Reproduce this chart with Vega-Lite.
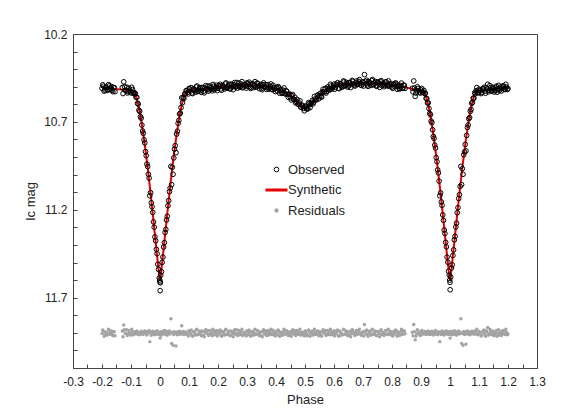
{
"$schema":"https://vega.github.io/schema/vega-lite/v6.json",
"width":464,"height":334,
"autosize":"none",
"padding":{"left":73,"top":34,"right":35,"bottom":46},
"background":"white",
"config":{"view":{"stroke":"#444","strokeWidth":1},"font":"Liberation Sans"},
"datasets":{
"syn":[{"p":-0.2,"m":10.505},{"p":-0.17,"m":10.51},{"p":-0.14,"m":10.515},{"p":-0.11,"m":10.52},{"p":-0.095,"m":10.524},{"p":-0.09,"m":10.527},{"p":-0.085,"m":10.545},{"p":-0.08,"m":10.57},{"p":-0.075,"m":10.603},{"p":-0.07,"m":10.642},{"p":-0.065,"m":10.688},{"p":-0.06,"m":10.742},{"p":-0.055,"m":10.8},{"p":-0.05,"m":10.862},{"p":-0.045,"m":10.928},{"p":-0.04,"m":10.997},{"p":-0.035,"m":11.07},{"p":-0.03,"m":11.146},{"p":-0.025,"m":11.224},{"p":-0.02,"m":11.303},{"p":-0.015,"m":11.383},{"p":-0.01,"m":11.462},{"p":-0.005,"m":11.54},{"p":0,"m":11.605},{"p":0.005,"m":11.54},{"p":0.01,"m":11.462},{"p":0.015,"m":11.383},{"p":0.02,"m":11.303},{"p":0.025,"m":11.224},{"p":0.03,"m":11.146},{"p":0.035,"m":11.07},{"p":0.04,"m":10.997},{"p":0.045,"m":10.928},{"p":0.05,"m":10.862},{"p":0.055,"m":10.8},{"p":0.06,"m":10.742},{"p":0.065,"m":10.688},{"p":0.07,"m":10.642},{"p":0.075,"m":10.603},{"p":0.08,"m":10.57},{"p":0.085,"m":10.545},{"p":0.09,"m":10.527},{"p":0.095,"m":10.524},{"p":0.11,"m":10.52},{"p":0.14,"m":10.515},{"p":0.17,"m":10.508},{"p":0.2,"m":10.503},{"p":0.25,"m":10.495},{"p":0.3,"m":10.49},{"p":0.35,"m":10.494},{"p":0.38,"m":10.504},{"p":0.4,"m":10.51},{"p":0.42,"m":10.522},{"p":0.44,"m":10.54},{"p":0.46,"m":10.566},{"p":0.48,"m":10.6},{"p":0.49,"m":10.616},{"p":0.5,"m":10.628},{"p":0.51,"m":10.616},{"p":0.52,"m":10.6},{"p":0.54,"m":10.564},{"p":0.56,"m":10.535},{"p":0.58,"m":10.512},{"p":0.6,"m":10.497},{"p":0.65,"m":10.484},{"p":0.7,"m":10.478},{"p":0.75,"m":10.481},{"p":0.8,"m":10.49},{"p":0.85,"m":10.505},{"p":0.88,"m":10.515},{"p":0.905,"m":10.524},{"p":0.91,"m":10.527},{"p":0.915,"m":10.545},{"p":0.92,"m":10.57},{"p":0.925,"m":10.603},{"p":0.93,"m":10.642},{"p":0.935,"m":10.688},{"p":0.94,"m":10.742},{"p":0.945,"m":10.8},{"p":0.95,"m":10.862},{"p":0.955,"m":10.928},{"p":0.96,"m":10.997},{"p":0.965,"m":11.07},{"p":0.97,"m":11.146},{"p":0.975,"m":11.224},{"p":0.98,"m":11.303},{"p":0.985,"m":11.383},{"p":0.99,"m":11.462},{"p":0.995,"m":11.54},{"p":1,"m":11.605},{"p":1.005,"m":11.54},{"p":1.01,"m":11.462},{"p":1.015,"m":11.383},{"p":1.02,"m":11.303},{"p":1.025,"m":11.224},{"p":1.03,"m":11.146},{"p":1.035,"m":11.07},{"p":1.04,"m":10.997},{"p":1.045,"m":10.928},{"p":1.05,"m":10.862},{"p":1.055,"m":10.8},{"p":1.06,"m":10.742},{"p":1.065,"m":10.688},{"p":1.07,"m":10.642},{"p":1.075,"m":10.603},{"p":1.08,"m":10.57},{"p":1.085,"m":10.545},{"p":1.09,"m":10.527},{"p":1.095,"m":10.524},{"p":1.11,"m":10.52},{"p":1.14,"m":10.515},{"p":1.17,"m":10.51},{"p":1.2,"m":10.505}],
"obs":[
{"p":-0.2,"o":10.509,"r":11.904},{"p":-0.195,"o":10.497,"r":11.891},{"p":-0.19,"o":10.519,"r":11.912},{"p":-0.185,"o":10.504,"r":11.897},{"p":-0.18,"o":10.515,"r":11.907},{"p":-0.175,"o":10.495,"r":11.886},{"p":-0.17,"o":10.511,"r":11.901},{"p":-0.165,"o":10.52,"r":11.91},{"p":-0.16,"o":10.505,"r":11.894},{"p":-0.155,"o":10.528,"r":11.916},
{"p":-0.13,"o":10.505,"r":11.889},{"p":-0.125,"o":10.472,"r":11.855},{"p":-0.12,"o":10.52,"r":11.902},{"p":-0.115,"o":10.502,"r":11.883},{"p":-0.11,"o":10.528,"r":11.908},{"p":-0.105,"o":10.52,"r":11.899},{"p":-0.1,"o":10.535,"r":11.913},{"p":-0.095,"o":10.516,"r":11.892},{"p":-0.09,"o":10.532,"r":11.905},
{"p":-0.0875,"o":10.541,"r":11.906},{"p":-0.085,"o":10.538,"r":11.893},{"p":-0.0825,"o":10.56,"r":11.903},{"p":-0.08,"o":10.56,"r":11.89},{"p":-0.0775,"o":10.594,"r":11.908},{"p":-0.075,"o":10.599,"r":11.896},{"p":-0.0725,"o":10.633,"r":11.911},{"p":-0.07,"o":10.64,"r":11.898},{"p":-0.0675,"o":10.67,"r":11.906},{"p":-0.065,"o":10.679,"r":11.891},{"p":-0.0625,"o":10.718,"r":11.904},{"p":-0.06,"o":10.752,"r":11.91},{"p":-0.0575,"o":10.765,"r":11.894},{"p":-0.055,"o":10.802,"r":11.902},{"p":-0.0525,"o":10.82,"r":11.889},{"p":-0.05,"o":10.869,"r":11.907},{"p":-0.0475,"o":10.892,"r":11.897},{"p":-0.045,"o":10.94,"r":11.912},{"p":-0.0425,"o":10.954,"r":11.892},{"p":-0.04,"o":10.998,"r":11.901},{"p":-0.0375,"o":11.02,"r":11.887},{"p":-0.035,"o":11.12,"r":11.95},{"p":-0.0325,"o":11.103,"r":11.895},{"p":-0.03,"o":11.16,"r":11.914},{"p":-0.0275,"o":11.183,"r":11.898},{"p":-0.025,"o":11.215,"r":11.891},{"p":-0.0225,"o":11.269,"r":11.906},{"p":-0.02,"o":11.299,"r":11.896},{"p":-0.0175,"o":11.354,"r":11.911},{"p":-0.015,"o":11.376,"r":11.893},{"p":-0.0125,"o":11.425,"r":11.903},{"p":-0.01,"o":11.45,"r":11.888},{"p":-0.0075,"o":11.51,"r":11.908},{"p":-0.005,"o":11.539,"r":11.899},{"p":-0.0025,"o":11.588,"r":11.91},{"p":-0.001,"o":11.6,"r":11.908},{"p":0,"o":11.61,"r":11.905},{"p":0.0005,"o":11.66,"r":11.93},{"p":0.001,"o":11.615,"r":11.912},
{"p":0.0025,"o":11.572,"r":11.894},{"p":0.005,"o":11.552,"r":11.912},{"p":0.0075,"o":11.499,"r":11.897},{"p":0.01,"o":11.469,"r":11.907},{"p":0.0125,"o":11.412,"r":11.89},{"p":0.015,"o":11.387,"r":11.904},{"p":0.0175,"o":11.329,"r":11.886},{"p":0.02,"o":11.312,"r":11.909},{"p":0.0225,"o":11.258,"r":11.895},{"p":0.025,"o":11.237,"r":11.913},{"p":0.0275,"o":11.177,"r":11.892},{"p":0.03,"o":11.148,"r":11.902},{"p":0.0325,"o":11.097,"r":11.889},{"p":0.035,"o":11.076,"r":11.906},{"p":0.0375,"o":10.953,"r":11.82},{"p":0.04,"o":11.057,"r":11.96},{"p":0.0425,"o":10.958,"r":11.896},{"p":0.045,"o":10.998,"r":11.97},{"p":0.0475,"o":10.905,"r":11.91},{"p":0.05,"o":10.855,"r":11.893},{"p":0.0525,"o":10.835,"r":11.904},{"p":0.055,"o":10.875,"r":11.975},{"p":0.0575,"o":10.769,"r":11.898},{"p":0.06,"o":10.753,"r":11.911},{"p":0.0625,"o":10.708,"r":11.894},{"p":0.065,"o":10.691,"r":11.903},{"p":0.0675,"o":10.655,"r":11.891},{"p":0.07,"o":10.65,"r":11.908},{"p":0.0725,"o":10.619,"r":11.897},{"p":0.075,"o":10.563,"r":11.86},{"p":0.0775,"o":10.591,"r":11.905},{"p":0.08,"o":10.562,"r":11.892},{"p":0.0825,"o":10.567,"r":11.91},{"p":0.085,"o":10.541,"r":11.896},{"p":0.0875,"o":10.541,"r":11.906},
{"p":0.09,"o":10.522,"r":11.895},{"p":0.095,"o":10.533,"r":11.909},{"p":0.1,"o":10.51,"r":11.888},{"p":0.105,"o":10.525,"r":11.904},{"p":0.11,"o":10.535,"r":11.915},{"p":0.115,"o":10.512,"r":11.893},{"p":0.12,"o":10.52,"r":11.902},{"p":0.125,"o":10.501,"r":11.884},{"p":0.13,"o":10.527,"r":11.911},{"p":0.135,"o":10.512,"r":11.897},{"p":0.14,"o":10.522,"r":11.907},{"p":0.145,"o":10.504,"r":11.89},{"p":0.15,"o":10.526,"r":11.913},{"p":0.155,"o":10.507,"r":11.895},{"p":0.16,"o":10.512,"r":11.901},{"p":0.165,"o":10.496,"r":11.886},{"p":0.17,"o":10.518,"r":11.909},{"p":0.175,"o":10.506,"r":11.898},{"p":0.18,"o":10.523,"r":11.916},{"p":0.185,"o":10.497,"r":11.891},{"p":0.19,"o":10.509,"r":11.904},{"p":0.195,"o":10.491,"r":11.887},{"p":0.2,"o":10.509,"r":11.906},{"p":0.205,"o":10.498,"r":11.896},{"p":0.21,"o":10.513,"r":11.912},{"p":0.215,"o":10.493,"r":11.892},{"p":0.22,"o":10.503,"r":11.903},{"p":0.225,"o":10.484,"r":11.885},{"p":0.23,"o":10.508,"r":11.91},{"p":0.235,"o":10.496,"r":11.899},{"p":0.24,"o":10.511,"r":11.914},{"p":0.245,"o":10.485,"r":11.889},{"p":0.25,"o":10.5,"r":11.905},{"p":0.255,"o":10.489,"r":11.894},{"p":0.26,"o":10.502,"r":11.908},{"p":0.265,"o":10.476,"r":11.883},{"p":0.27,"o":10.495,"r":11.902},{"p":0.275,"o":10.503,"r":11.911},{"p":0.28,"o":10.485,"r":11.893},{"p":0.285,"o":10.506,"r":11.915},{"p":0.29,"o":10.488,"r":11.897},{"p":0.295,"o":10.496,"r":11.906},{"p":0.3,"o":10.478,"r":11.888},{"p":0.305,"o":10.499,"r":11.909},{"p":0.31,"o":10.486,"r":11.895},{"p":0.315,"o":10.504,"r":11.913},{"p":0.32,"o":10.483,"r":11.891},{"p":0.325,"o":10.493,"r":11.901},{"p":0.33,"o":10.502,"r":11.91},{"p":0.335,"o":10.479,"r":11.886},{"p":0.34,"o":10.497,"r":11.904},{"p":0.345,"o":10.492,"r":11.898},{"p":0.35,"o":10.51,"r":11.916},{"p":0.355,"o":10.488,"r":11.892},{"p":0.36,"o":10.504,"r":11.907},{"p":0.365,"o":10.488,"r":11.889},{"p":0.37,"o":10.503,"r":11.903},{"p":0.375,"o":10.514,"r":11.912},{"p":0.38,"o":10.498,"r":11.894},{"p":0.385,"o":10.513,"r":11.908},{"p":0.39,"o":10.492,"r":11.885},{"p":0.395,"o":10.513,"r":11.905},{"p":0.4,"o":10.507,"r":11.897},{"p":0.405,"o":10.524,"r":11.911},{"p":0.41,"o":10.507,"r":11.891},{"p":0.415,"o":10.521,"r":11.902},{"p":0.42,"o":10.536,"r":11.914},{"p":0.425,"o":10.52,"r":11.894},{"p":0.43,"o":10.538,"r":11.907},{"p":0.435,"o":10.523,"r":11.888},{"p":0.44,"o":10.544,"r":11.904},{"p":0.445,"o":10.544,"r":11.898},{"p":0.45,"o":10.562,"r":11.91},{"p":0.455,"o":10.551,"r":11.892},{"p":0.46,"o":10.571,"r":11.906},{"p":0.465,"o":10.56,"r":11.887},{"p":0.47,"o":10.584,"r":11.903},{"p":0.475,"o":10.598,"r":11.909},{"p":0.48,"o":10.592,"r":11.895},{"p":0.485,"o":10.615,"r":11.912},{"p":0.49,"o":10.605,"r":11.896},{"p":0.495,"o":10.623,"r":11.907},{"p":0.5,"o":10.612,"r":11.89},{"p":0.505,"o":10.621,"r":11.905},{"p":0.51,"o":10.622,"r":11.913},{"p":0.515,"o":10.596,"r":11.893},{"p":0.52,"o":10.599,"r":11.902},{"p":0.525,"o":10.578,"r":11.889},{"p":0.53,"o":10.588,"r":11.908},{"p":0.535,"o":10.569,"r":11.897},{"p":0.54,"o":10.573,"r":11.91},{"p":0.545,"o":10.547,"r":11.891},{"p":0.55,"o":10.553,"r":11.904},{"p":0.555,"o":10.556,"r":11.914},{"p":0.56,"o":10.529,"r":11.894},{"p":0.565,"o":10.53,"r":11.901},{"p":0.57,"o":10.51,"r":11.886},{"p":0.575,"o":10.527,"r":11.909},{"p":0.58,"o":10.51,"r":11.898},{"p":0.585,"o":10.519,"r":11.911},{"p":0.59,"o":10.496,"r":11.892},{"p":0.595,"o":10.506,"r":11.905},{"p":0.6,"o":10.485,"r":11.888},{"p":0.605,"o":10.503,"r":11.907},{"p":0.61,"o":10.49,"r":11.896},{"p":0.615,"o":10.508,"r":11.915},{"p":0.62,"o":10.482,"r":11.89},{"p":0.625,"o":10.494,"r":11.903},{"p":0.63,"o":10.498,"r":11.909},{"p":0.635,"o":10.472,"r":11.884},{"p":0.64,"o":10.493,"r":11.906},{"p":0.645,"o":10.484,"r":11.899},{"p":0.65,"o":10.496,"r":11.912},{"p":0.655,"o":10.476,"r":11.893},{"p":0.66,"o":10.487,"r":11.904},{"p":0.665,"o":10.469,"r":11.887},{"p":0.67,"o":10.491,"r":11.91},{"p":0.675,"o":10.478,"r":11.897},{"p":0.68,"o":10.488,"r":11.908},{"p":0.685,"o":10.469,"r":11.889},{"p":0.69,"o":10.481,"r":11.902},{"p":0.695,"o":10.493,"r":11.914},{"p":0.7,"o":10.472,"r":11.894},{"p":0.705,"o":10.431,"r":11.853},{"p":0.71,"o":10.484,"r":11.905},{"p":0.715,"o":10.49,"r":11.911},{"p":0.72,"o":10.47,"r":11.891},{"p":0.725,"o":10.483,"r":11.903},{"p":0.73,"o":10.465,"r":11.885},{"p":0.735,"o":10.488,"r":11.908},{"p":0.74,"o":10.479,"r":11.898},{"p":0.745,"o":10.494,"r":11.913},{"p":0.75,"o":10.474,"r":11.893},{"p":0.755,"o":10.486,"r":11.904},{"p":0.76,"o":10.471,"r":11.888},{"p":0.765,"o":10.494,"r":11.91},{"p":0.77,"o":10.481,"r":11.896},{"p":0.775,"o":10.492,"r":11.906},{"p":0.78,"o":10.472,"r":11.886},{"p":0.785,"o":10.496,"r":11.909},{"p":0.79,"o":10.489,"r":11.901},{"p":0.795,"o":10.481,"r":11.892},{"p":0.8,"o":10.502,"r":11.912},{"p":0.805,"o":10.487,"r":11.895},{"p":0.81,"o":10.5,"r":11.907},{"p":0.815,"o":10.485,"r":11.89},{"p":0.82,"o":10.499,"r":11.903},{"p":0.825,"o":10.512,"r":11.914},{"p":0.83,"o":10.493,"r":11.894},{"p":0.835,"o":10.509,"r":11.908},{"p":0.84,"o":10.491,"r":11.889},{"p":0.845,"o":10.509,"r":11.905},
{"p":0.87,"o":10.509,"r":11.897},{"p":0.875,"o":10.467,"r":11.853},{"p":0.88,"o":10.555,"r":11.94},{"p":0.885,"o":10.523,"r":11.906},{"p":0.89,"o":10.51,"r":11.891},{"p":0.895,"o":10.531,"r":11.911},{"p":0.9,"o":10.518,"r":11.896},{"p":0.905,"o":10.531,"r":11.907},{"p":0.91,"o":10.521,"r":11.894},
{"p":0.9125,"o":10.539,"r":11.904},{"p":0.915,"o":10.537,"r":11.892},{"p":0.9175,"o":10.566,"r":11.909},{"p":0.92,"o":10.567,"r":11.897},{"p":0.9225,"o":10.592,"r":11.906},{"p":0.925,"o":10.592,"r":11.889},{"p":0.9275,"o":10.624,"r":11.902},{"p":0.93,"o":10.652,"r":11.91},{"p":0.9325,"o":10.659,"r":11.895},{"p":0.935,"o":10.695,"r":11.907},{"p":0.9375,"o":10.705,"r":11.891},{"p":0.94,"o":10.745,"r":11.903},{"p":0.9425,"o":10.783,"r":11.912},{"p":0.945,"o":10.794,"r":11.894},{"p":0.9475,"o":10.832,"r":11.901},{"p":0.95,"o":10.849,"r":11.887},{"p":0.9525,"o":10.903,"r":11.908},{"p":0.955,"o":10.926,"r":11.898},{"p":0.9575,"o":10.973,"r":11.911},{"p":0.96,"o":10.99,"r":11.893},{"p":0.9625,"o":11.037,"r":11.904},{"p":0.965,"o":11.12,"r":11.95},{"p":0.9675,"o":11.104,"r":11.896},{"p":0.97,"o":11.155,"r":11.909},{"p":0.9725,"o":11.175,"r":11.89},{"p":0.975,"o":11.229,"r":11.905},{"p":0.9775,"o":11.26,"r":11.897},{"p":0.98,"o":11.315,"r":11.912},{"p":0.9825,"o":11.335,"r":11.892},{"p":0.985,"o":11.385,"r":11.902},{"p":0.9875,"o":11.411,"r":11.889},{"p":0.99,"o":11.469,"r":11.907},{"p":0.9925,"o":11.498,"r":11.896},{"p":0.995,"o":11.55,"r":11.91},{"p":0.9975,"o":11.572,"r":11.894},{"p":0.999,"o":11.6,"r":11.906},{"p":1,"o":11.613,"r":11.908},{"p":1.0005,"o":11.655,"r":11.93},
{"p":1.0025,"o":11.582,"r":11.904},{"p":1.005,"o":11.531,"r":11.891},{"p":1.0075,"o":11.513,"r":11.911},{"p":1.01,"o":11.46,"r":11.898},{"p":1.0125,"o":11.428,"r":11.906},{"p":1.015,"o":11.371,"r":11.888},{"p":1.0175,"o":11.351,"r":11.908},{"p":1.02,"o":11.298,"r":11.895},{"p":1.0225,"o":11.276,"r":11.913},{"p":1.025,"o":11.217,"r":11.893},{"p":1.0275,"o":11.188,"r":11.903},{"p":1.03,"o":11.136,"r":11.89},{"p":1.0325,"o":11.114,"r":11.906},{"p":1.035,"o":11.067,"r":11.897},{"p":1.0375,"o":10.953,"r":11.82},{"p":1.04,"o":11.057,"r":11.96},{"p":1.0425,"o":10.966,"r":11.904},{"p":1.045,"o":10.998,"r":11.97},{"p":1.0475,"o":10.887,"r":11.892},{"p":1.05,"o":10.871,"r":11.909},{"p":1.0525,"o":10.828,"r":11.897},{"p":1.055,"o":10.865,"r":11.965},{"p":1.0575,"o":10.777,"r":11.906},{"p":1.06,"o":10.732,"r":11.89},{"p":1.0625,"o":10.718,"r":11.904},{"p":1.065,"o":10.682,"r":11.894},{"p":1.0675,"o":10.675,"r":11.911},{"p":1.07,"o":10.64,"r":11.898},{"p":1.0725,"o":10.629,"r":11.907},{"p":1.075,"o":10.594,"r":11.891},{"p":1.0775,"o":10.589,"r":11.903},{"p":1.08,"o":10.565,"r":11.895},{"p":1.0825,"o":10.565,"r":11.908},{"p":1.085,"o":10.534,"r":11.889},{"p":1.0875,"o":10.54,"r":11.905},
{"p":1.09,"o":10.523,"r":11.896},{"p":1.095,"o":10.534,"r":11.91},{"p":1.1,"o":10.514,"r":11.892},{"p":1.105,"o":10.524,"r":11.903},{"p":1.11,"o":10.533,"r":11.913},{"p":1.115,"o":10.513,"r":11.894},{"p":1.12,"o":10.525,"r":11.907},{"p":1.125,"o":10.505,"r":11.888},{"p":1.13,"o":10.486,"r":11.87},{"p":1.135,"o":10.52,"r":11.905},{"p":1.14,"o":10.506,"r":11.891},{"p":1.145,"o":10.525,"r":11.911},{"p":1.15,"o":10.511,"r":11.898},{"p":1.155,"o":10.52,"r":11.908},{"p":1.16,"o":10.497,"r":11.886},{"p":1.165,"o":10.514,"r":11.904},{"p":1.17,"o":10.522,"r":11.912},{"p":1.175,"o":10.502,"r":11.893},{"p":1.18,"o":10.51,"r":11.902},{"p":1.185,"o":10.497,"r":11.89},{"p":1.19,"o":10.516,"r":11.909},{"p":1.195,"o":10.502,"r":11.896},{"p":1.2,"o":10.511,"r":11.906},
{"p":-0.1975,"o":10.489,"r":11.884},{"p":-0.1925,"o":10.525,"r":11.919},{"p":-0.1875,"o":10.503,"r":11.896},{"p":-0.1825,"o":10.521,"r":11.913},{"p":-0.1775,"o":10.488,"r":11.879},{"p":-0.1725,"o":10.517,"r":11.908},{"p":-0.1675,"o":10.499,"r":11.889},{"p":-0.1625,"o":10.528,"r":11.917},{"p":-0.1575,"o":10.505,"r":11.893},{"p":-0.1275,"o":10.539,"r":11.922},{"p":-0.1225,"o":10.5,"r":11.882},{"p":-0.1175,"o":10.522,"r":11.903},{"p":-0.1125,"o":10.535,"r":11.915},{"p":-0.1075,"o":10.508,"r":11.887},{"p":-0.1025,"o":10.528,"r":11.906},{"p":-0.0975,"o":10.503,"r":11.88},{"p":-0.0925,"o":10.537,"r":11.911},
{"p":0.0925,"o":10.523,"r":11.898},{"p":0.0975,"o":10.541,"r":11.918},{"p":0.1025,"o":10.513,"r":11.891},{"p":0.1075,"o":10.505,"r":11.884},{"p":0.1125,"o":10.539,"r":11.919},{"p":0.1175,"o":10.515,"r":11.896},{"p":0.1225,"o":10.531,"r":11.913},{"p":0.1275,"o":10.496,"r":11.879},{"p":0.1325,"o":10.524,"r":11.908},{"p":0.1375,"o":10.504,"r":11.889},{"p":0.1425,"o":10.532,"r":11.917},{"p":0.1475,"o":10.507,"r":11.893},{"p":0.1525,"o":10.535,"r":11.922},{"p":0.1575,"o":10.494,"r":11.882},{"p":0.1625,"o":10.514,"r":11.903},{"p":0.1675,"o":10.525,"r":11.915},{"p":0.1725,"o":10.496,"r":11.887},{"p":0.1775,"o":10.514,"r":11.906},{"p":0.1825,"o":10.487,"r":11.88},{"p":0.1875,"o":10.517,"r":11.911},{"p":0.1925,"o":10.503,"r":11.898},{"p":0.1975,"o":10.522,"r":11.918},{"p":0.2025,"o":10.494,"r":11.891},{"p":0.2075,"o":10.486,"r":11.884},{"p":0.2125,"o":10.52,"r":11.919},{"p":0.2175,"o":10.496,"r":11.896},{"p":0.2225,"o":10.513,"r":11.913},{"p":0.2275,"o":10.478,"r":11.879},{"p":0.2325,"o":10.506,"r":11.908},{"p":0.2375,"o":10.486,"r":11.889},{"p":0.2425,"o":10.513,"r":11.917},{"p":0.2475,"o":10.489,"r":11.893},{"p":0.2525,"o":10.517,"r":11.922},{"p":0.2575,"o":10.476,"r":11.882},{"p":0.2625,"o":10.497,"r":11.903},{"p":0.2675,"o":10.508,"r":11.915},{"p":0.2725,"o":10.479,"r":11.887},{"p":0.2775,"o":10.498,"r":11.906},{"p":0.2825,"o":10.471,"r":11.88},{"p":0.2875,"o":10.502,"r":11.911},{"p":0.2925,"o":10.488,"r":11.898},{"p":0.2975,"o":10.508,"r":11.918},{"p":0.3025,"o":10.481,"r":11.891},{"p":0.3075,"o":10.474,"r":11.884},{"p":0.3125,"o":10.51,"r":11.919},{"p":0.3175,"o":10.487,"r":11.896},{"p":0.3225,"o":10.505,"r":11.913},{"p":0.3275,"o":10.471,"r":11.879},{"p":0.3325,"o":10.501,"r":11.908},{"p":0.3375,"o":10.482,"r":11.889},{"p":0.3425,"o":10.511,"r":11.917},{"p":0.3475,"o":10.487,"r":11.893},{"p":0.3525,"o":10.517,"r":11.922},{"p":0.3575,"o":10.478,"r":11.882},{"p":0.3625,"o":10.501,"r":11.903},{"p":0.3675,"o":10.515,"r":11.915},{"p":0.3725,"o":10.488,"r":11.887},{"p":0.3775,"o":10.509,"r":11.906},{"p":0.3825,"o":10.484,"r":11.88},{"p":0.3875,"o":10.517,"r":11.911},{"p":0.3925,"o":10.505,"r":11.898},{"p":0.3975,"o":10.527,"r":11.918},{"p":0.4025,"o":10.503,"r":11.891},{"p":0.4075,"o":10.499,"r":11.884},{"p":0.4125,"o":10.537,"r":11.919},{"p":0.4175,"o":10.517,"r":11.896},{"p":0.4225,"o":10.537,"r":11.913},{"p":0.4275,"o":10.507,"r":11.879},{"p":0.4325,"o":10.541,"r":11.908},{"p":0.4375,"o":10.527,"r":11.889},{"p":0.4425,"o":10.56,"r":11.917},{"p":0.4475,"o":10.542,"r":11.893},{"p":0.4525,"o":10.575,"r":11.92},{"p":0.4575,"o":10.544,"r":11.882},{"p":0.4625,"o":10.572,"r":11.903},{"p":0.4675,"o":10.592,"r":11.915},{"p":0.4725,"o":10.572,"r":11.887},{"p":0.4775,"o":10.599,"r":11.906},{"p":0.4825,"o":10.58,"r":11.88},{"p":0.4875,"o":10.617,"r":11.911},{"p":0.4925,"o":10.61,"r":11.898},{"p":0.4975,"o":10.637,"r":11.918},{"p":0.5025,"o":10.61,"r":11.891},{"p":0.5075,"o":10.628,"r":11.916},{"p":0.5125,"o":10.59,"r":11.884},{"p":0.5175,"o":10.619,"r":11.919},{"p":0.5225,"o":10.589,"r":11.896},{"p":0.5275,"o":10.598,"r":11.913},{"p":0.5325,"o":10.555,"r":11.879},{"p":0.5375,"o":10.575,"r":11.908},{"p":0.5425,"o":10.549,"r":11.889},{"p":0.5475,"o":10.569,"r":11.917},{"p":0.5525,"o":10.538,"r":11.893},{"p":0.5575,"o":10.559,"r":11.92},{"p":0.5625,"o":10.514,"r":11.882},{"p":0.5675,"o":10.529,"r":11.903},{"p":0.5725,"o":10.536,"r":11.915},{"p":0.5775,"o":10.502,"r":11.887},{"p":0.5825,"o":10.516,"r":11.906},{"p":0.5875,"o":10.486,"r":11.88},{"p":0.5925,"o":10.513,"r":11.911},{"p":0.5975,"o":10.497,"r":11.898},{"p":0.6025,"o":10.514,"r":11.918},{"p":0.6075,"o":10.486,"r":11.891},{"p":0.6125,"o":10.477,"r":11.884},{"p":0.6175,"o":10.511,"r":11.919},{"p":0.6225,"o":10.487,"r":11.896},{"p":0.6275,"o":10.503,"r":11.913},{"p":0.6325,"o":10.467,"r":11.879},{"p":0.6375,"o":10.495,"r":11.908},{"p":0.6425,"o":10.475,"r":11.889},{"p":0.6475,"o":10.502,"r":11.917},{"p":0.6525,"o":10.477,"r":11.893},{"p":0.6575,"o":10.505,"r":11.922},{"p":0.6625,"o":10.464,"r":11.882},{"p":0.6675,"o":10.484,"r":11.903},{"p":0.6725,"o":10.496,"r":11.915},{"p":0.6775,"o":10.467,"r":11.887},{"p":0.6825,"o":10.486,"r":11.906},{"p":0.6875,"o":10.459,"r":11.88},{"p":0.6925,"o":10.49,"r":11.911},{"p":0.6975,"o":10.476,"r":11.898},{"p":0.7025,"o":10.496,"r":11.918},{"p":0.7075,"o":10.469,"r":11.891},{"p":0.7125,"o":10.463,"r":11.884},{"p":0.7175,"o":10.498,"r":11.919},{"p":0.7225,"o":10.475,"r":11.896},{"p":0.7275,"o":10.493,"r":11.913},{"p":0.7325,"o":10.459,"r":11.879},{"p":0.7375,"o":10.488,"r":11.908},{"p":0.7425,"o":10.47,"r":11.889},{"p":0.7475,"o":10.498,"r":11.917},{"p":0.7525,"o":10.474,"r":11.893},{"p":0.7575,"o":10.504,"r":11.922},{"p":0.7625,"o":10.465,"r":11.882},{"p":0.7675,"o":10.487,"r":11.903},{"p":0.7725,"o":10.5,"r":11.915},{"p":0.7775,"o":10.473,"r":11.887},{"p":0.7825,"o":10.492,"r":11.906},{"p":0.7875,"o":10.467,"r":11.88},{"p":0.7925,"o":10.499,"r":11.911},{"p":0.7975,"o":10.487,"r":11.898},{"p":0.8025,"o":10.509,"r":11.918},{"p":0.8075,"o":10.483,"r":11.891},{"p":0.8125,"o":10.478,"r":11.884},{"p":0.8175,"o":10.514,"r":11.919},{"p":0.8225,"o":10.493,"r":11.896},{"p":0.8275,"o":10.511,"r":11.913},{"p":0.8325,"o":10.479,"r":11.879},{"p":0.8375,"o":10.509,"r":11.908},{"p":0.8425,"o":10.492,"r":11.889},{"p":0.8725,"o":10.53,"r":11.917},{"p":0.8775,"o":10.507,"r":11.893},{"p":0.8825,"o":10.536,"r":11.92},{"p":0.8875,"o":10.5,"r":11.882},{"p":0.8925,"o":10.522,"r":11.903},{"p":0.8975,"o":10.536,"r":11.915},{"p":0.9025,"o":10.51,"r":11.887},{"p":0.9075,"o":10.531,"r":11.906},
{"p":1.0925,"o":10.505,"r":11.88},{"p":1.0975,"o":10.534,"r":11.911},{"p":1.1025,"o":10.52,"r":11.898},{"p":1.1075,"o":10.539,"r":11.918},{"p":1.1125,"o":10.511,"r":11.891},{"p":1.1175,"o":10.503,"r":11.884},{"p":1.1225,"o":10.537,"r":11.919},{"p":1.1275,"o":10.513,"r":11.896},{"p":1.1325,"o":10.529,"r":11.913},{"p":1.1375,"o":10.494,"r":11.879},{"p":1.1425,"o":10.523,"r":11.908},{"p":1.1475,"o":10.503,"r":11.889},{"p":1.1525,"o":10.53,"r":11.917},{"p":1.1575,"o":10.505,"r":11.893},{"p":1.1625,"o":10.531,"r":11.92},{"p":1.1675,"o":10.492,"r":11.882},{"p":1.1725,"o":10.512,"r":11.903},{"p":1.1775,"o":10.524,"r":11.915},{"p":1.1825,"o":10.495,"r":11.887},{"p":1.1875,"o":10.513,"r":11.906},{"p":1.1925,"o":10.486,"r":11.88},{"p":1.1975,"o":10.516,"r":11.911}
]},
"encoding":{
"x":{"field":"p","type":"quantitative","title":"Phase",
"scale":{"domain":[-0.3,1.3],"nice":false,"zero":false},
"axis":{"values":[-0.3,-0.25,-0.2,-0.15,-0.1,-0.05,0,0.05,0.1,0.15,0.2,0.25,0.3,0.35,0.4,0.45,0.5,0.55,0.6,0.65,0.7,0.75,0.8,0.85,0.9,0.95,1,1.05,1.1,1.15,1.2,1.25,1.3],
"labelExpr":"abs(round(datum.value*20)) % 2 === 0 ? toString(round(datum.value*10)/10) : ''",
"grid":false,"tickSize":-4,"tickColor":"#444","domainColor":"#444","labelPadding":12,"labelFlush":false,"labelOverlap":false,"labelBound":false,
"labelFont":"Liberation Sans","labelFontSize":12,"labelColor":"#222","titleFont":"Liberation Sans","titleFontSize":13,"titleFontWeight":"normal","titleColor":"#222","titlePadding":6}}},
"layer":[
{"data":{"name":"syn"},"mark":{"type":"line","strokeWidth":2},
"encoding":{"y":{"field":"m","type":"quantitative","title":"Ic mag",
"scale":{"domain":[10.2,12.1],"reverse":true,"nice":false,"zero":false},
"axis":{"values":[10.2,10.3,10.4,10.5,10.6,10.7,10.8,10.9,11,11.1,11.2,11.3,11.4,11.5,11.6,11.7,11.8,11.9,12,12.1],"labelExpr":"indexof(['10.2','10.7','11.2','11.7'], format(datum.value,'.1f')) >= 0 ? format(datum.value,'.1f') : ''","grid":false,"tickSize":-4,"tickColor":"#444","domainColor":"#444","labelPadding":10,"labelOverlap":false,"labelBound":false,"labelFont":"Liberation Sans","labelFontSize":12,"labelColor":"#222","titleFont":"Liberation Sans","titleFontSize":13,"titleFontWeight":"normal","titleColor":"#222","titlePadding":6}},
"color":{"datum":"Synthetic","type":"nominal","scale":{"domain":["Observed","Synthetic","Residuals"],"range":["#000000","#e60000","#a3a3a3"]},
"legend":{"orient":"none","legendX":197,"legendY":129,"title":null,"padding":0,"labelFont":"Liberation Sans","labelFontSize":13,"labelColor":"#222","symbolSize":400,"rowPadding":6.5,"labelOffset":5,
"encode":{"symbols":{"update":{
"shape":{"signal":"datum.value === 'Synthetic' ? 'stroke' : 'circle'"},
"size":{"signal":"datum.value === 'Synthetic' ? 484 : (datum.value === 'Observed' ? 22 : 12)"},
"fill":{"signal":"datum.value === 'Residuals' ? '#a3a3a3' : 'transparent'"},
"fillOpacity":{"signal":"datum.value === 'Residuals' ? 1 : 0"},
"stroke":{"signal":"datum.value === 'Observed' ? '#444' : (datum.value === 'Synthetic' ? '#e60000' : 'transparent')"},
"strokeWidth":{"signal":"datum.value === 'Synthetic' ? 3 : 1"}}}}}}}},
{"data":{"name":"obs"},"mark":{"type":"point","filled":false,"size":22,"strokeWidth":1,"opacity":1},
"encoding":{"y":{"field":"o","type":"quantitative","title":"Ic mag",
"axis":{"values":[10.2,10.3,10.4,10.5,10.6,10.7,10.8,10.9,11,11.1,11.2,11.3,11.4,11.5,11.6,11.7,11.8,11.9,12,12.1],"labelExpr":"indexof(['10.2','10.7','11.2','11.7'], format(datum.value,'.1f')) >= 0 ? format(datum.value,'.1f') : ''","grid":false,"tickSize":-4,"tickColor":"#444","domainColor":"#444","labelPadding":10,"labelOverlap":false,"labelBound":false,"labelFont":"Liberation Sans","labelFontSize":12,"labelColor":"#222","titleFont":"Liberation Sans","titleFontSize":13,"titleFontWeight":"normal","titleColor":"#222","titlePadding":6}},
"color":{"datum":"Observed","type":"nominal"}}},
{"data":{"name":"obs"},"mark":{"type":"circle","size":12,"opacity":1},
"encoding":{"y":{"field":"r","type":"quantitative","title":"Ic mag",
"axis":{"values":[10.2,10.3,10.4,10.5,10.6,10.7,10.8,10.9,11,11.1,11.2,11.3,11.4,11.5,11.6,11.7,11.8,11.9,12,12.1],"labelExpr":"indexof(['10.2','10.7','11.2','11.7'], format(datum.value,'.1f')) >= 0 ? format(datum.value,'.1f') : ''","grid":false,"tickSize":-4,"tickColor":"#444","domainColor":"#444","labelPadding":10,"labelOverlap":false,"labelBound":false,"labelFont":"Liberation Sans","labelFontSize":12,"labelColor":"#222","titleFont":"Liberation Sans","titleFontSize":13,"titleFontWeight":"normal","titleColor":"#222","titlePadding":6}},
"color":{"datum":"Residuals","type":"nominal"}}}
]
}
